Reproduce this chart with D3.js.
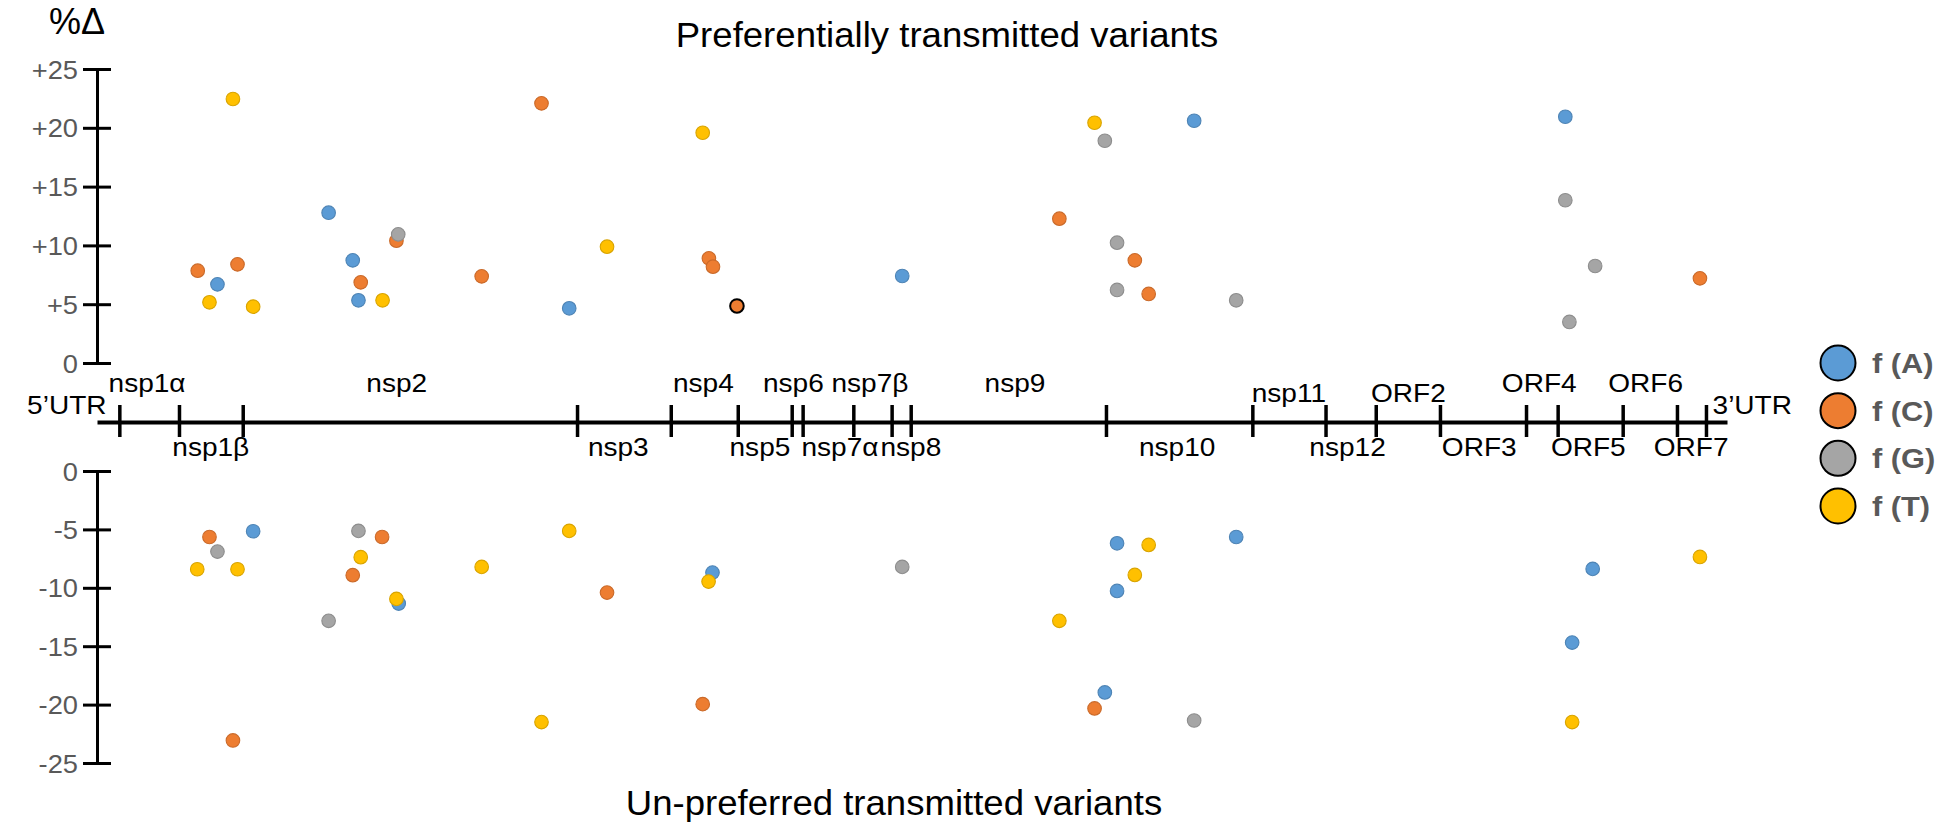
<!DOCTYPE html>
<html><head><meta charset="utf-8">
<script src="https://cdn.jsdelivr.net/npm/d3@7"></script>
<style>
html,body{margin:0;padding:0;background:#fff;}
svg{display:block;font-family:"Liberation Sans",Arial,sans-serif;}
</style></head><body>
<svg id="chart" width="1940" height="832"></svg>
<script>
// ---------- DATA ----------
const nucleotides = ["A", "C", "G", "T"];
const legendLabels = ["f (A)", "f (C)", "f (G)", "f (T)"];
const colors = ["#5B9BD5", "#ED7D31", "#A5A5A5", "#FFC000"];

const upTicks = [0, 5, 10, 15, 20, 25];
const upTickLabels = ["0", "+5", "+10", "+15", "+20", "+25"];
const downTicks = [0, -5, -10, -15, -20, -25];
const downTickLabels = ["0", "-5", "-10", "-15", "-20", "-25"];

// genome schematic: relative position (0-100) of region boundaries
const genomeBoundaries = [1.37, 5.03, 8.94, 29.45, 35.20, 39.31, 42.62, 43.29, 46.40, 48.75, 49.92,
  61.90, 70.88, 75.37, 78.45, 82.39, 87.67, 89.61, 93.60, 96.93, 98.71];
const regionNames = ["5’UTR", "nsp1α", "nsp1β", "nsp2", "nsp3", "nsp4", "nsp5", "nsp6", "nsp7α", "nsp7β", "nsp8",
  "nsp9", "nsp10", "nsp11", "nsp12", "ORF2", "ORF3", "ORF4", "ORF5", "ORF6", "ORF7", "3’UTR"];
const regionLabelPos = [-1.85, 3.07, 6.98, 18.39, 31.98, 37.20, 40.67, 42.72, 45.58, 47.42, 49.93,
  56.32, 66.27, 73.12, 76.72, 80.45, 84.80, 88.48, 91.49, 95.01, 97.80, 101.55];
const regionLabelTier = ["end", "top", "bottom", "top", "bottom", "top", "bottom", "top", "bottom", "top", "bottom",
  "top", "bottom", "topLow", "bottom", "topLow", "bottom", "top", "bottom", "top", "bottom", "end"];

// preferentially transmitted variants: [genome position, %Δ]
const upA = [[7.39, 6.69], [14.21, 12.78], [15.69, 8.73], [16.04, 5.33], [28.97, 4.65], [49.40, 7.40], [67.31, 20.60], [90.08, 20.94]];
const upC = [[6.18, 7.85], [8.62, 8.39], [16.18, 6.86], [18.37, 10.40], [23.60, 7.37], [27.27, 22.08], [37.54, 8.90], [37.79, 8.19],
  [59.04, 12.27], [63.67, 8.73], [64.52, 5.87], [98.34, 7.20]];
const upCOutlined = [[39.26, 4.85]];
const upG = [[18.48, 10.94], [61.83, 18.90], [62.58, 10.23], [62.58, 6.21], [69.89, 5.33], [90.08, 13.84], [91.91, 8.25], [90.33, 3.49]];
const upT = [[6.90, 5.16], [8.34, 22.45], [9.58, 4.79], [17.52, 5.33], [31.29, 9.89], [37.16, 19.58], [61.20, 20.43]];

// un-preferred transmitted variants
const downA = [[9.58, -5.16], [18.51, -11.35], [37.76, -8.70], [62.58, -6.19], [62.58, -10.27], [61.83, -18.96], [69.89, -5.65],
  [91.76, -8.38], [90.50, -14.69]];
const downC = [[6.90, -5.65], [8.34, -23.07], [17.49, -5.65], [15.69, -8.92], [31.29, -10.41], [37.16, -19.96], [61.20, -20.33]];
const downG = [[7.39, -6.90], [14.21, -12.83], [16.04, -5.13], [49.40, -8.21], [67.31, -21.36]];
const downT = [[6.15, -8.41], [8.62, -8.41], [16.18, -7.38], [18.37, -10.95], [23.60, -8.21], [27.27, -21.50], [28.97, -5.13],
  [37.52, -9.47], [64.52, -6.33], [63.67, -8.90], [59.04, -12.83], [98.34, -7.36], [90.50, -21.50]];

const titleTop = "Preferentially transmitted variants";
const titleBottom = "Un-preferred transmitted variants";
const yAxisTitle = "%Δ";

// ---------- LAYOUT ----------
const svg = d3.select("#chart");
const x = d3.scaleLinear().domain([0, 100]).range([97, 1727]);
const yUp = d3.scaleLinear().domain([0, 25]).range([363, 69]);
const yDown = d3.scaleLinear().domain([0, -25]).range([471, 763]);
const genomeY = 422;
const color = d3.scaleOrdinal().domain(nucleotides).range(colors);

function stext(g, tx, ty, str, opts) {
  const o = Object.assign({anchor: "start", size: 26, fill: "#000", weight: "normal", sx: 1.08}, opts || {});
  return g.append("text")
    .attr("transform", `translate(${tx},${ty}) scale(${o.sx},1)`)
    .attr("text-anchor", o.anchor)
    .attr("font-size", o.size)
    .attr("font-weight", o.weight)
    .attr("fill", o.fill)
    .text(str);
}

// ---------- Y AXES ----------
function yAxis(scale, ticks, labels) {
  const g = svg.append("g").attr("transform", `translate(${x(0)},0)`);
  g.call(d3.axisLeft(scale).tickValues(ticks).tickSizeInner(14).tickSizeOuter(0).tickFormat(""));
  g.select(".domain").attr("stroke", "#000").attr("stroke-width", 3);
  g.selectAll(".tick line").attr("x1", 14).attr("stroke", "#000").attr("stroke-width", 3);
  ticks.forEach((t, i) => stext(svg, 78, scale(t) + 9.5, labels[i], {anchor: "end", size: 25.5, fill: "#595959", sx: 1.07}));
}
yAxis(yUp, upTicks, upTickLabels);
yAxis(yDown, downTicks, downTickLabels);

// ---------- GENOME AXIS ----------
const gG = svg.append("g").attr("transform", `translate(0,${genomeY})`);
gG.call(d3.axisBottom(x).tickValues(genomeBoundaries).tickSizeInner(15).tickSizeOuter(0).tickFormat(""));
gG.select(".domain").attr("stroke", "#000").attr("stroke-width", 4);
gG.selectAll(".tick line").attr("y1", -17).attr("y2", 15).attr("stroke", "#000").attr("stroke-width", 3.5);

const tierY = {top: 392, topLow: 402, bottom: 456, end: 414};
regionNames.forEach((n, i) => {
  stext(svg, x(regionLabelPos[i]), tierY[regionLabelTier[i]], n, {anchor: "middle", size: 25.5, fill: "#000", sx: 1.1});
});

// ---------- TITLES ----------
stext(svg, 947, 47, titleTop, {anchor: "middle", size: 35, sx: 1.045});
stext(svg, 894, 815, titleBottom, {anchor: "middle", size: 35, sx: 1.045});
stext(svg, 49, 34, yAxisTitle, {anchor: "start", size: 36, sx: 1.0});

// ---------- POINTS ----------
function drawSeries(data, nuc, yScale, strokeCol, sw) {
  const c = color(nuc);
  svg.append("g").selectAll("circle").data(data).join("circle")
    .attr("cx", d => x(d[0]))
    .attr("cy", d => yScale(d[1]))
    .attr("r", 6.8)
    .attr("fill", c)
    .attr("stroke", strokeCol || d3.color(c).darker(0.45))
    .attr("stroke-width", sw || 1.1);
}
drawSeries(upA, "A", yUp);
drawSeries(upC, "C", yUp);
drawSeries(upCOutlined, "C", yUp, "#000", 2);
drawSeries(upG, "G", yUp);
drawSeries(upT, "T", yUp);
drawSeries(downA, "A", yDown);
drawSeries(downC, "C", yDown);
drawSeries(downG, "G", yDown);
drawSeries(downT, "T", yDown);

// ---------- LEGEND ----------
const legendY = d3.scalePoint().domain(nucleotides).range([363, 506]);
const lg = svg.append("g");
nucleotides.forEach((n, i) => {
  lg.append("circle").attr("cx", 1838).attr("cy", legendY(n)).attr("r", 17.5)
    .attr("fill", color(n)).attr("stroke", "#000").attr("stroke-width", 2);
  stext(lg, 1872, legendY(n) + 10, legendLabels[i], {anchor: "start", size: 28, weight: "bold", fill: "#595959", sx: 1.1});
});
</script>
</body></html>
